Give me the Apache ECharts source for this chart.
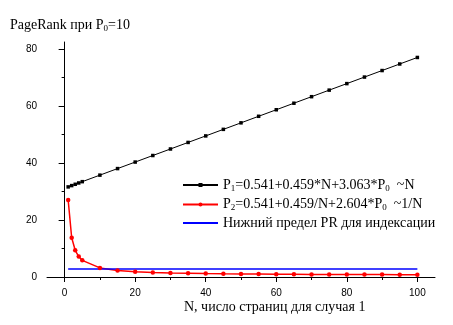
<!DOCTYPE html>
<html>
<head>
<meta charset="utf-8">
<script src="https://cdn.jsdelivr.net/npm/echarts@6/dist/echarts.min.js"></script>
<style>
html,body{margin:0;padding:0;background:#fff;}
#chart{width:453px;height:325px;}
</style>
</head>
<body>
<div id="chart"></div>
<script>
// ---- data ----
var nValues = [1, 2, 3, 4, 5, 10, 15, 20, 25, 30, 35, 40, 45, 50, 55, 60, 65, 70, 75, 80, 85, 90, 95, 100];
var p1Values = [31.63, 32.09, 32.55, 33.01, 33.47, 35.76, 38.06, 40.35, 42.65, 44.94, 47.24, 49.53, 51.83, 54.12, 56.42, 58.71, 61.01, 63.30, 65.60, 67.89, 70.19, 72.48, 74.78, 77.07];
var p2Values = [27.04, 13.79, 9.38, 7.17, 5.84, 3.19, 2.31, 1.87, 1.60, 1.42, 1.30, 1.20, 1.13, 1.07, 1.02, 0.98, 0.95, 0.92, 0.89, 0.87, 0.85, 0.84, 0.82, 0.81];
var limitN = [1, 100];
var limitValues = [2.8, 2.8];
var xTickLabels = [0, 20, 40, 60, 80, 100];
var xMinorTicks = [10, 30, 50, 70, 90];
var yTickLabels = [0, 20, 40, 60, 80];
var yMinorTicks = [10, 30, 50, 70];
var seriesNames = ['P1', 'P2', 'limit'];

function pairs(xs, ys) { return xs.map(function (x, i) { return [x, ys[i]]; }); }

var serif = '"Liberation Serif", "Times New Roman", serif';
var sans = '"Liberation Sans", Arial, sans-serif';

var legendText = {
  'P1': '{t|P}{s|1}{t|=0.541+0.459*N+3.063*P}{s|0}{t|  ~N}',
  'P2': '{t|P}{s|2}{t|=0.541+0.459/N+2.604*P}{s|0}{t|  ~1/N}',
  'limit': '{t|Нижний предел PR для индексации}'
};

var chart = echarts.init(document.getElementById('chart'), null, {renderer: 'canvas'});
var commonX = {type: 'value', min: -5, max: 105, gridIndex: 0, position: 'bottom', splitLine: {show: false}};
var commonY = {type: 'value', min: 0, max: 82.5, gridIndex: 0, position: 'left', splitLine: {show: false}};

chart.setOption({
  animation: false,
  backgroundColor: '#fff',
  grid: {left: 47, right: 18, top: 42, bottom: 48, containLabel: false},
  xAxis: [
    Object.assign({}, commonX, {
      axisLine: {show: true, lineStyle: {color: '#000', width: 1}},
      axisTick: {show: true, inside: false, length: 5, customValues: xTickLabels, lineStyle: {color: '#000'}},
      axisLabel: {show: true, customValues: xTickLabels, margin: 11, color: '#000', fontFamily: sans, fontSize: 10}
    }),
    Object.assign({}, commonX, {
      offset: 0,
      axisLine: {show: false},
      axisTick: {show: true, inside: false, length: 3, customValues: xMinorTicks, lineStyle: {color: '#000'}},
      axisLabel: {show: false}
    })
  ],
  yAxis: [
    Object.assign({}, commonY, {
      axisLine: {show: true, lineStyle: {color: '#000', width: 1}},
      axisTick: {show: true, inside: false, length: 6, customValues: yTickLabels, lineStyle: {color: '#000'}},
      axisLabel: {show: true, customValues: yTickLabels, margin: 10, color: '#000', fontFamily: sans, fontSize: 10}
    }),
    Object.assign({}, commonY, {
      offset: 0,
      axisLine: {show: false},
      axisTick: {show: true, inside: false, length: 3, customValues: yMinorTicks, lineStyle: {color: '#000'}},
      axisLabel: {show: false}
    })
  ],
  legend: {
    orient: 'vertical',
    left: 182,
    top: 177,
    itemWidth: 35,
    itemHeight: 5,
    itemGap: 3.5,
    padding: 0,
    data: [
      {name: seriesNames[0]},
      {name: seriesNames[1]},
      {name: seriesNames[2], itemStyle: {opacity: 0}}
    ],
    formatter: function (name) { return legendText[name]; },
    textStyle: {
      color: '#000',
      rich: {
        t: {fontFamily: serif, fontSize: 14, color: '#000', lineHeight: 16},
        s: {fontFamily: serif, fontSize: 9, color: '#000', padding: [7, 0, 0, 0], lineHeight: 9}
      }
    }
  },
  series: [
    {
      name: seriesNames[0], type: 'line', xAxisIndex: 0, yAxisIndex: 0,
      data: pairs(nValues, p1Values),
      symbol: 'rect', symbolSize: 3.5, showAllSymbol: true,
      lineStyle: {color: '#000', width: 1}, itemStyle: {color: '#000'}
    },
    {
      name: seriesNames[1], type: 'line', xAxisIndex: 0, yAxisIndex: 0,
      data: pairs(nValues, p2Values),
      symbol: 'circle', symbolSize: 4.5, showAllSymbol: true,
      lineStyle: {color: '#ff0000', width: 1.5}, itemStyle: {color: '#ff0000'}
    },
    {
      name: seriesNames[2], type: 'line', xAxisIndex: 0, yAxisIndex: 0,
      data: pairs(limitN, limitValues),
      symbol: 'none',
      lineStyle: {color: '#0000ff', width: 1.6}, itemStyle: {color: '#0000ff'}
    }
  ],
  graphic: [
    {
      type: 'text', left: 10, top: 17,
      style: {
        text: '{t|PageRank при P}{s|0}{t|=10}',
        rich: {
          t: {fontFamily: serif, fontSize: 14, fill: '#000', lineHeight: 16},
          s: {fontFamily: serif, fontSize: 9, fill: '#000', padding: [7, 0, 0, 0], lineHeight: 9}
        }
      }
    },
    {
      type: 'text', left: 184, top: 300,
      style: {text: 'N, число страниц для случая 1', fontFamily: serif, fontSize: 14, fill: '#000'}
    }
  ]
});
</script>
</body>
</html>
